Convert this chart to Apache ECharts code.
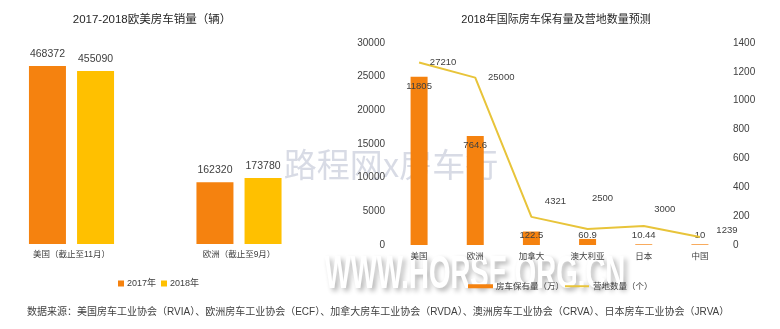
<!DOCTYPE html>
<html>
<head>
<meta charset="utf-8">
<script src="https://cdn.jsdelivr.net/npm/echarts@6/dist/echarts.min.js"></script>
<style>
html,body{margin:0;padding:0;background:#fff;}
#chart{width:780px;height:329px;}
</style>
</head>
<body>
<div id="chart"></div>
<script>
// ---- data ----
const salesCategories = ['美国（截止至11月）', '欧洲（截止至9月）'];
const sales2017 = [468372, 162320];
const sales2018 = [455090, 173780];

const rvCategories = ['美国', '欧洲', '加拿大', '澳大利亚', '日本', '中国'];
// bar heights as drawn on the left axis, and the labels printed on them
const ownershipHeights = [25000, 16200, 2000, 900, 100, 100];
const ownershipLabels = ['11805', '764.6', '122.5', '60.9', '10.44', '10'];
// line values as drawn on the right axis, and the labels printed by them
const campValues = [1265, 1160, 195, 111, 131, 55];
const campLabels = ['27210', '25000', '4321', '2500', '3000', '1239'];

const leftTicks = {min: 0, max: 30000, interval: 5000};
const rightTicks = {min: 0, max: 1400, interval: 200};

// ---- layout / style ----
const ORANGE = '#F5820F';
const YELLOW = '#FFC000';
const LINE = '#E8C43A';
const TXT = '#404040';
const FONT = '"Liberation Sans", "Noto Sans CJK SC", sans-serif';
const campLabelOffsets = [[24, 0], [26, 0], [24, -15], [15, -31], [21, -17], [27, -7]];
const barLabelPos = ['insideTop', 'insideTop', 'insideBottom', 'insideBottom', 'insideBottom', 'insideBottom'];
const plain = v => String(v);

const chart = echarts.init(document.getElementById('chart'));
chart.setOption({
  animation: false,
  textStyle: {fontFamily: FONT},
  grid: [
    {left: 71.5, width: 167.5, top: 54, height: 190},
    {left: 391, width: 337, top: 43, height: 202}
  ],
  xAxis: [
    {gridIndex: 0, type: 'category', data: salesCategories, boundaryGap: false,
      axisLine: {show: false}, axisTick: {show: false},
      axisLabel: {fontSize: 8.5, color: TXT, margin: 6, fontFamily: FONT}},
    {gridIndex: 1, type: 'category', data: rvCategories,
      axisLine: {show: false}, axisTick: {show: false},
      axisLabel: {fontSize: 8.5, color: TXT, margin: 7, fontFamily: FONT}}
  ],
  yAxis: [
    {gridIndex: 0, type: 'value', min: 0, max: 500000, show: false},
    {gridIndex: 1, type: 'value', min: leftTicks.min, max: leftTicks.max, interval: leftTicks.interval,
      axisLine: {show: false}, axisTick: {show: false}, splitLine: {show: false},
      axisLabel: {fontSize: 10, color: TXT, margin: 6, fontFamily: FONT, formatter: plain}},
    {gridIndex: 1, type: 'value', position: 'right', min: rightTicks.min, max: rightTicks.max, interval: rightTicks.interval,
      axisLine: {show: false}, axisTick: {show: false}, splitLine: {show: false},
      axisLabel: {fontSize: 10, color: TXT, margin: 5, fontFamily: FONT, formatter: plain}}
  ],
  legend: [
    {data: ['2017年', '2018年'], left: 113, top: 274, icon: 'rect', itemWidth: 6, itemHeight: 6, itemGap: 5,
      textStyle: {fontSize: 9, color: TXT, fontFamily: FONT, padding: [0, 0, 0, -2]}},
    {data: ['房车保有量（万）'], left: 463, top: 277, icon: 'rect', itemWidth: 25, itemHeight: 4,
      textStyle: {fontSize: 8.5, color: TXT, fontFamily: FONT, padding: [0, 0, 0, -2]}},
    {data: ['营地数量（个）'], left: 560, top: 277, icon: 'rect', itemWidth: 24, itemHeight: 2,
      textStyle: {fontSize: 8.5, color: TXT, fontFamily: FONT, padding: [0, 0, 0, -1]}}
  ],
  graphic: [
    {type: 'text', z: 0, x: 391, y: 164, style: {text: '路程网x房车行', align: 'center', verticalAlign: 'middle',
      font: '33px "Noto Sans CJK SC", sans-serif', fill: 'rgba(195,200,215,0.65)'}},
    {type: 'text', z: 0, x: 475, y: 275, scaleX: 0.6, style: {text: 'WWW.HORSE.ORG.CN', align: 'center', verticalAlign: 'middle',
      font: 'bold 46px "Liberation Sans", sans-serif', fill: '#ffffff',
      textShadowColor: 'rgba(0,0,0,0.3)', textShadowBlur: 5, textShadowOffsetX: 3, textShadowOffsetY: 3}},
    {type: 'text', z: 10, x: 152, y: 20, style: {text: '2017-2018欧美房车销量（辆）', align: 'center', verticalAlign: 'middle',
      font: '11.5px ' + FONT, fill: '#262626'}},
    {type: 'text', z: 10, x: 556, y: 20, style: {text: '2018年国际房车保有量及营地数量预测', align: 'center', verticalAlign: 'middle',
      font: '11px ' + FONT, fill: '#262626'}},
    {type: 'text', z: 10, x: 27, y: 312, style: {text: '数据来源：美国房车工业协会（RVIA）、欧洲房车工业协会（ECF）、加拿大房车工业协会（RVDA）、澳洲房车工业协会（CRVA）、日本房车工业协会（JRVA）',
      align: 'left', verticalAlign: 'middle', font: '10px ' + FONT, fill: TXT}}
  ],
  series: [
    {name: '2017年', type: 'bar', xAxisIndex: 0, yAxisIndex: 0, data: sales2017, barWidth: 37, barGap: '30%',
      itemStyle: {color: ORANGE},
      label: {show: true, position: 'top', distance: 7, fontSize: 10.5, color: TXT, fontFamily: FONT}},
    {name: '2018年', type: 'bar', xAxisIndex: 0, yAxisIndex: 0, data: sales2018, barWidth: 37, barGap: '30%',
      itemStyle: {color: YELLOW},
      label: {show: true, position: 'top', distance: 7, fontSize: 10.5, color: TXT, fontFamily: FONT}},
    {name: '房车保有量（万）', type: 'bar', xAxisIndex: 1, yAxisIndex: 1, barWidth: 17,
      itemStyle: {color: ORANGE},
      data: ownershipHeights.map((v, i) => ({value: v, label: {position: barLabelPos[i], formatter: ownershipLabels[i]}})),
      label: {show: true, distance: 5, fontSize: 9.5, color: TXT, fontFamily: FONT}},
    {name: '营地数量（个）', type: 'line', xAxisIndex: 1, yAxisIndex: 2, symbol: 'circle', symbolSize: 0.1, showSymbol: true,
      lineStyle: {color: LINE, width: 2}, itemStyle: {color: LINE},
      data: campValues.map((v, i) => ({value: v, label: {offset: campLabelOffsets[i], formatter: campLabels[i]}})),
      label: {show: true, position: 'inside', fontSize: 9.5, color: TXT, fontFamily: FONT}}
  ]
});
</script>
</body>
</html>
